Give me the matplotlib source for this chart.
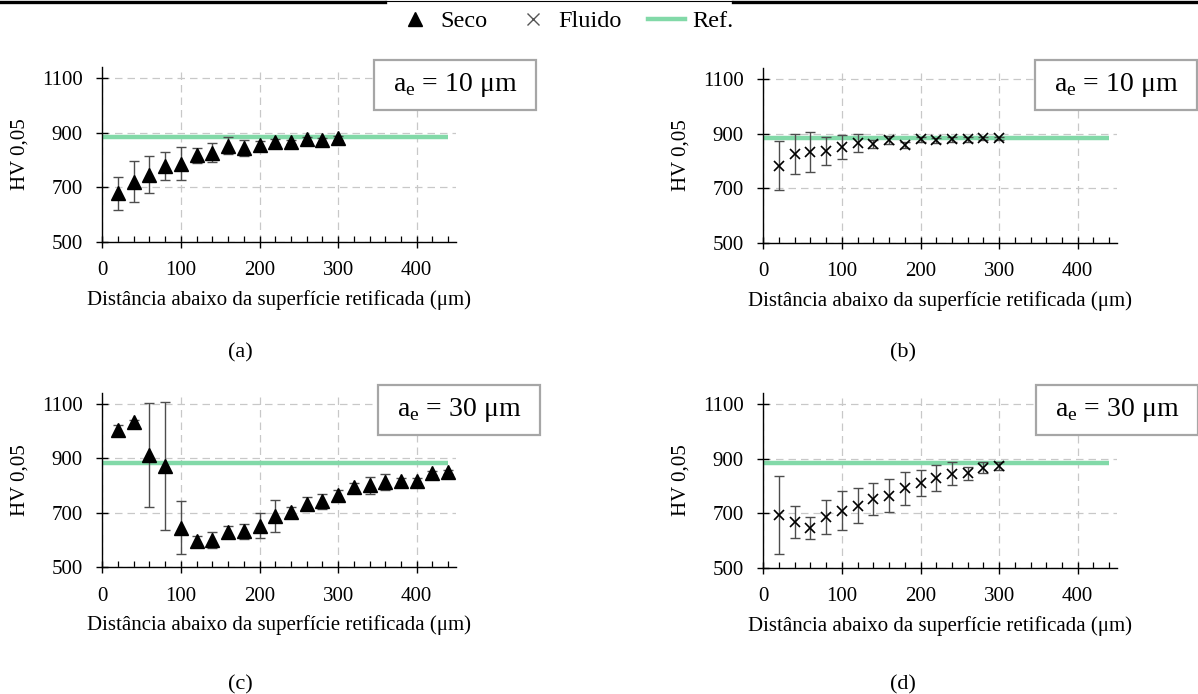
import matplotlib
matplotlib.use("Agg")
import matplotlib.pyplot as plt
from matplotlib.lines import Line2D
from matplotlib.patches import Rectangle
from matplotlib.ticker import MultipleLocator
import numpy as np

plt.rcParams['font.family'] = ['Liberation Serif', 'DejaVu Serif']
plt.rcParams['mathtext.fontset'] = 'custom'
plt.rcParams['mathtext.rm'] = 'Liberation Serif'

# profundidade (um)
x_15 = [20, 40, 60, 80, 100, 120, 140, 160, 180, 200, 220, 240, 260, 280, 300]
x_22 = [20, 40, 60, 80, 100, 120, 140, 160, 180, 200, 220, 240, 260, 280, 300,
        320, 340, 360, 380, 400, 420, 440]

# (a) seco, ae = 10
seco10 = [678, 720, 746, 779, 787, 817, 827, 853, 845, 855, 867, 865, 878, 872, 880]
seco10_err = [60, 75, 68, 52, 60, 28, 34, 31, 30, 15, 10, 8, 8, 8, 8]
# (b) fluido, ae = 10
flu10 = [783, 826, 833, 836, 851, 866, 863, 876, 858, 879, 876, 879, 879, 884, 884]
flu10_err = [90, 75, 73, 52, 45, 33, 15, 15, 12, 8, 10, 8, 8, 6, 6]
# (c) seco, ae = 30
seco30 = [1003, 1032, 912, 873, 645, 596, 600, 628, 632, 653, 689, 703, 734, 743, 765,
          795, 801, 813, 817, 817, 846, 851]
seco30_err = [20, 10, 190, 235, 97, 20, 30, 22, 28, 45, 58, 20, 25, 28, 20,
              15, 30, 30, 12, 12, 8, 8]
# (d) fluido, ae = 30
flu30 = [694, 667, 645, 685, 710, 728, 753, 765, 792, 810, 830, 845, 847, 867, 872]
flu30_err = [142, 58, 40, 63, 73, 63, 58, 62, 60, 48, 47, 42, 24, 20, 15]

ref_x = [0, 440]
ref_y = [884, 884]

W, H = 1198, 694
fig = plt.figure(figsize=(W / 100, H / 100), dpi=100)

REF_COLOR = '#82d9a8'
ERR_COLOR = '#4d4d4d'
FS = 15


def px_axes(left, bottom, xmax=450):
    w = xmax * 0.786
    h = 640 * 0.2723
    return fig.add_axes([left / W, 1 - bottom / H, w / W, h / H])


def style(ax):
    ax.set_xlim(0, 450)
    ax.set_ylim(500, 1140)
    ax.set_yticks([500, 700, 900, 1100])
    ax.xaxis.set_major_locator(MultipleLocator(100))
    ax.xaxis.set_minor_locator(MultipleLocator(20))
    for s in ['top', 'right']:
        ax.spines[s].set_visible(False)
    for s in ['left', 'bottom']:
        ax.spines[s].set_linewidth(1.0)
    ax.tick_params(axis='both', which='major', direction='inout', length=8, width=1.0,
                   labelsize=FS, pad=10)
    ax.tick_params(axis='x', which='minor', direction='in', length=4, width=0.9)
    ax.grid(True, which='major', linestyle=(0, (6, 4)), color='#c8c8c8', linewidth=0.9)
    ax.set_axisbelow(True)
    ax.set_xlabel('Distância abaixo da superfície retificada (μm)', fontsize=FS, labelpad=7)
    ax.set_ylabel('HV 0,05', fontsize=FS, labelpad=9)
    ax.plot(ref_x, ref_y, color=REF_COLOR, linewidth=3.2, zorder=2, solid_capstyle='butt')


def seco(ax, x, y, e):
    ax.errorbar(x, y, yerr=e, fmt='none', ecolor=ERR_COLOR, elinewidth=1.0,
                capsize=3.5, capthick=1.0, zorder=3)
    ax.plot(x, y, linestyle='none', marker='^', markersize=9.5, color='black', zorder=4)


def fluido(ax, x, y, e):
    ax.errorbar(x, y, yerr=e, fmt='none', ecolor=ERR_COLOR, elinewidth=1.0,
                capsize=3.5, capthick=1.0, zorder=3)
    ax.plot(x, y, linestyle='none', marker='x', markersize=7.5, markeredgewidth=1.2,
            color='black', zorder=4)


def box(cx, cy, label):
    w, h = 162, 50
    fig.add_artist(Rectangle(((cx - w / 2) / W, 1 - (cy + h / 2) / H), w / W, h / H,
                             transform=fig.transFigure, facecolor='white',
                             edgecolor='#a6a6a6', linewidth=1.6, zorder=10))
    t = fig.text(cx / W, 1 - cy / H, label, ha='center', va='center', fontsize=20)
    t.set_zorder(11)


ax_a = px_axes(102.3, 241.7)
style(ax_a)
seco(ax_a, x_15, seco10, seco10_err)

ax_b = px_axes(763.3, 242.7)
style(ax_b)
fluido(ax_b, x_15, flu10, flu10_err)

ax_c = px_axes(102.3, 567.3)
style(ax_c)
seco(ax_c, x_22, seco30, seco30_err)

ax_d = px_axes(763.3, 567.7)
style(ax_d)
fluido(ax_d, x_15, flu30, flu30_err)

box(455, 85, r'a$_{\rm e}$ = 10 μm')
box(1116, 85, r'a$_{\rm e}$ = 10 μm')
box(459, 410, r'a$_{\rm e}$ = 30 μm')
box(1117, 410, r'a$_{\rm e}$ = 30 μm')

for lab, cx, cy in [('(a)', 240, 353), ('(b)', 903, 353), ('(c)', 240, 685), ('(d)', 903, 685)]:
    fig.text(cx / W, 1 - cy / H, lab, ha='center', va='center', fontsize=16)

handles = [
    Line2D([], [], linestyle='none', marker='^', markersize=9.5, color='black'),
    Line2D([], [], linestyle='none', marker='x', markersize=8, markeredgewidth=1.0, color='#555555'),
    Line2D([], [], color=REF_COLOR, linewidth=3.2),
]
fig.legend(handles, ['Seco', 'Fluido', 'Ref.'], loc='center', ncol=3,
           bbox_to_anchor=(565 / W, 1 - 21 / H), frameon=False, fontsize=17.5,
           handlelength=1.5, handletextpad=0.3, columnspacing=1.1)

# borda superior da pagina
fig.add_artist(Line2D([0, 385 / W], [1 - 1.5 / H] * 2, color='black', linewidth=2.4,
                      transform=fig.transFigure))
fig.add_artist(Line2D([385 / W, 733 / W], [1 - 1 / H] * 2, color='black', linewidth=0.8,
                      transform=fig.transFigure))
fig.add_artist(Line2D([733 / W, 1], [1 - 1.5 / H] * 2, color='black', linewidth=2.4,
                      transform=fig.transFigure))

fig.savefig('out.png', dpi=100, facecolor='white')
